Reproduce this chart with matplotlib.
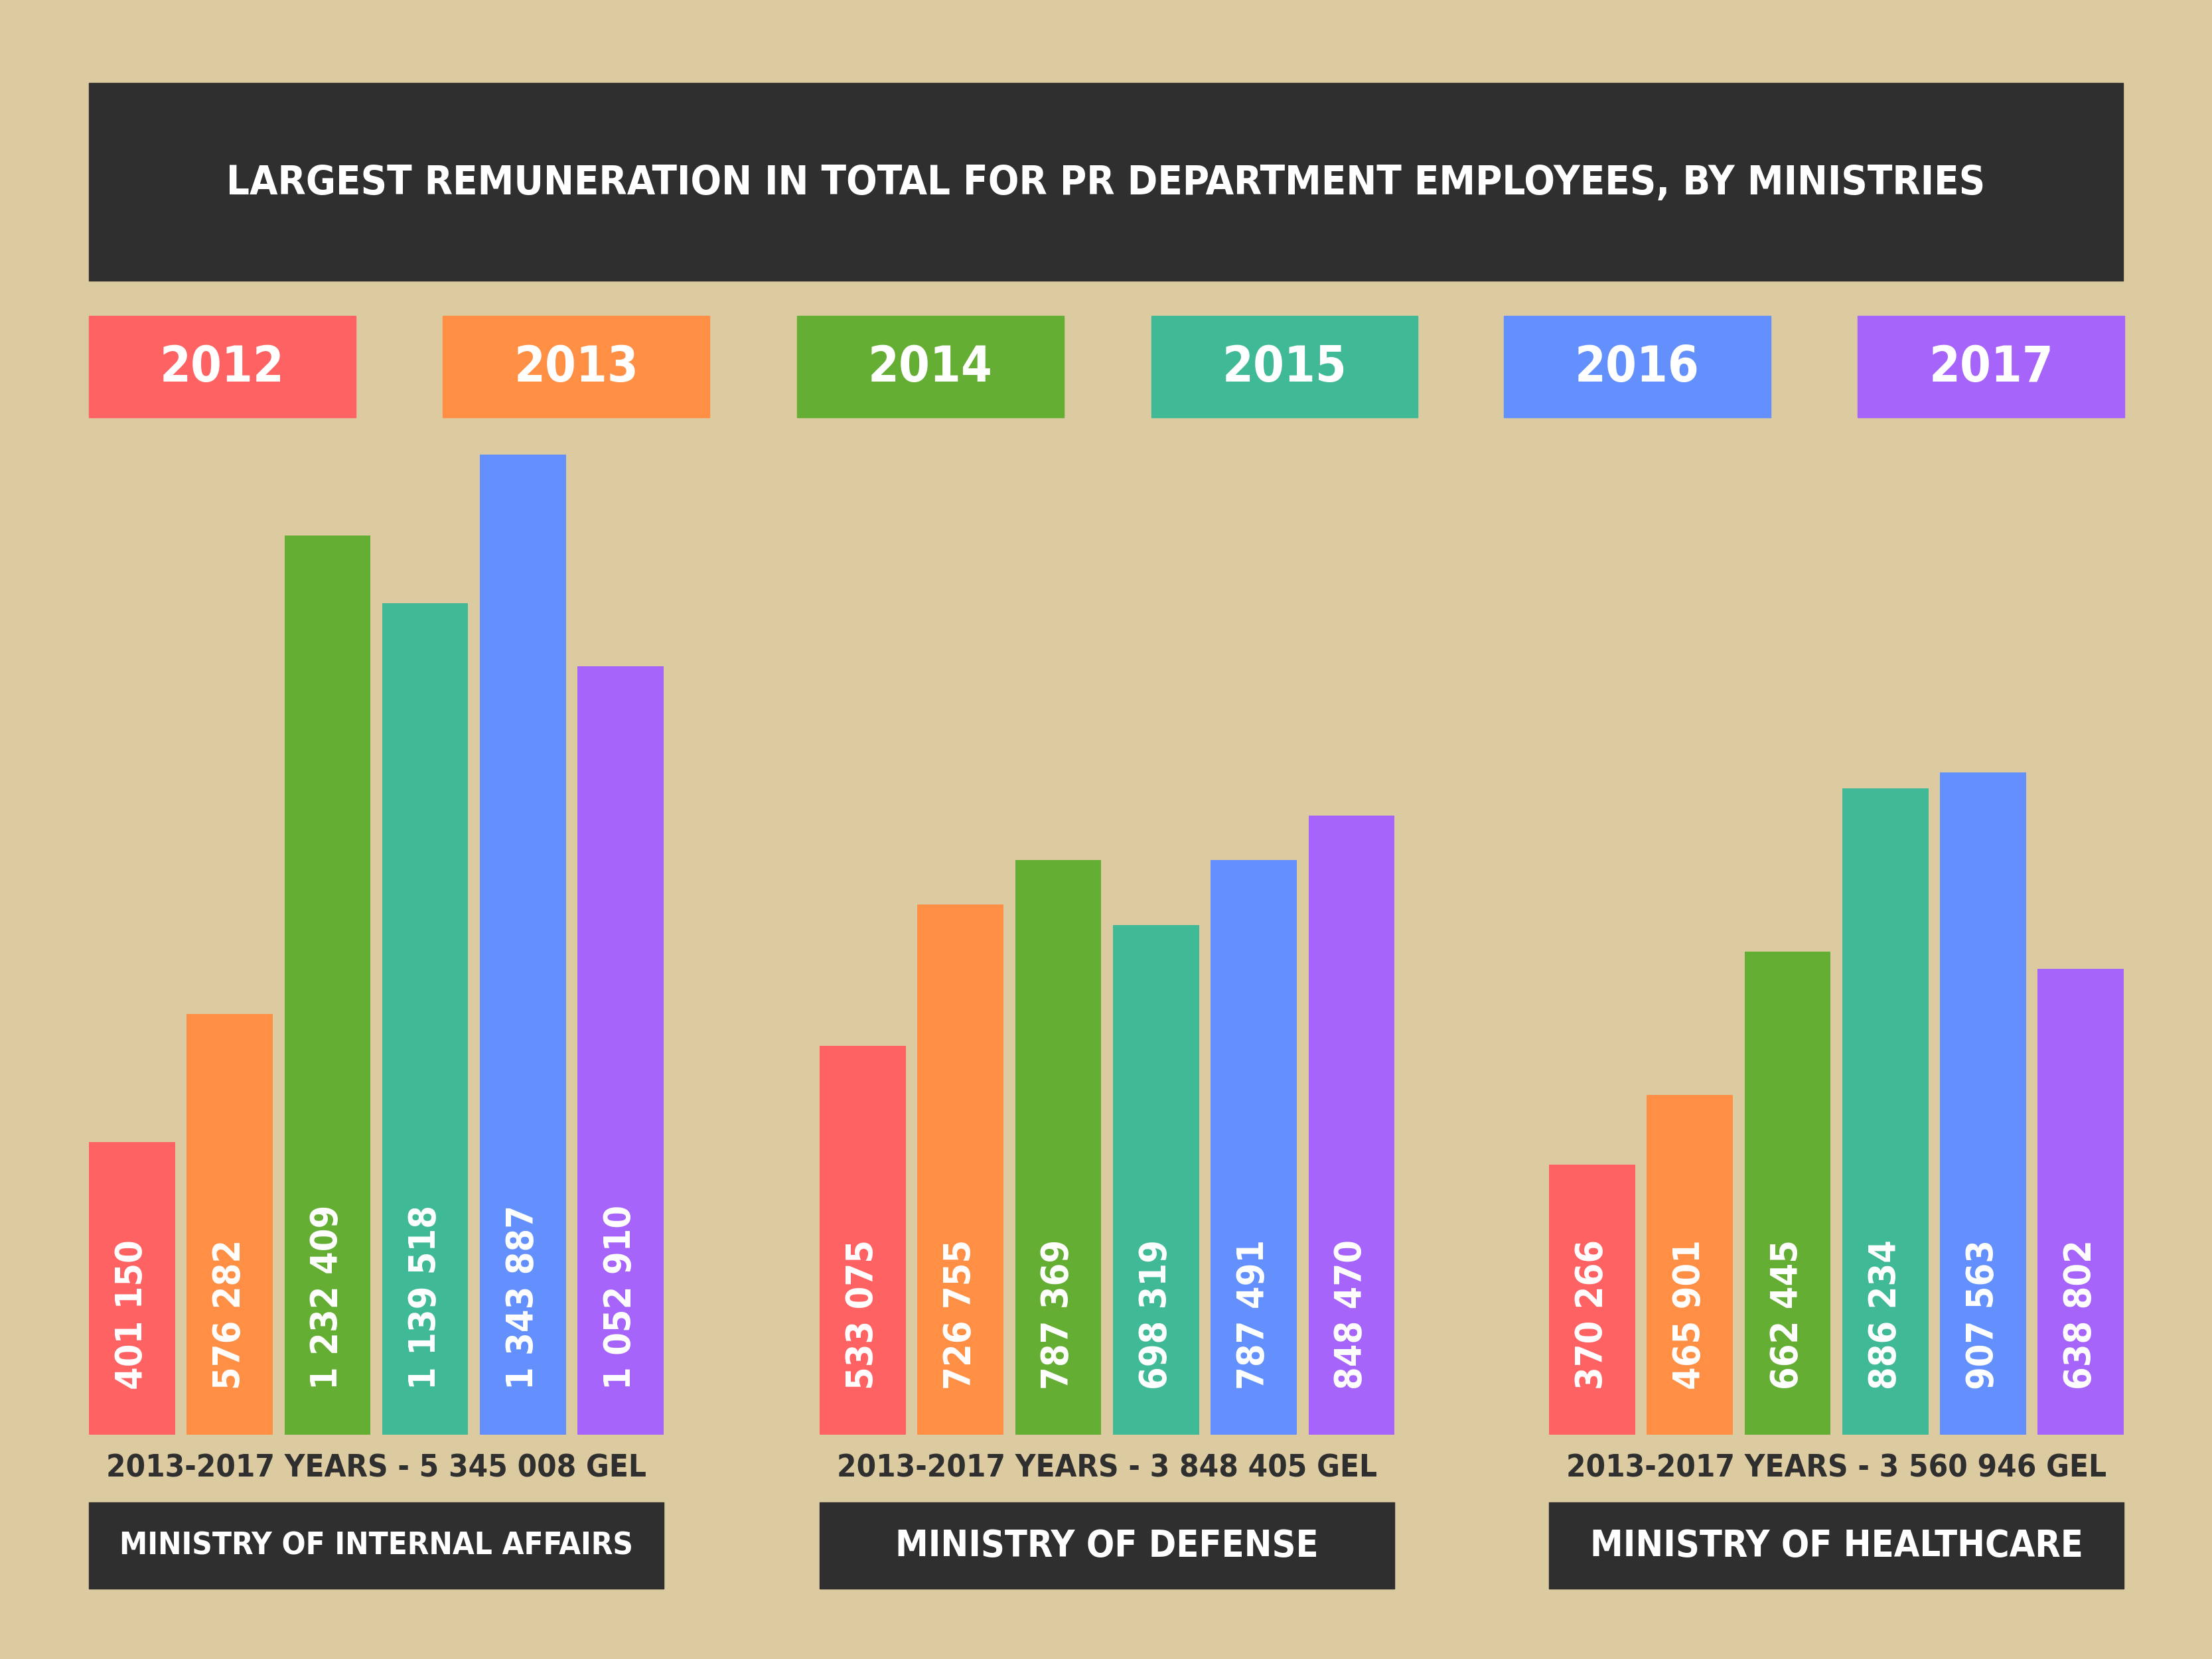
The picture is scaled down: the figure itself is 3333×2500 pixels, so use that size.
import matplotlib
matplotlib.use("Agg")
import matplotlib.pyplot as plt
from matplotlib.patches import Rectangle

FONT = "DejaVu Sans"
ST = "condensed"

years = ["2012", "2013", "2014", "2015", "2016", "2017"]
colors = ["#ff6262", "#ff8f45", "#64ae34", "#40b996", "#6390fc", "#a664fb"]
ministries = ["MINISTRY OF INTERNAL AFFAIRS", "MINISTRY OF DEFENSE", "MINISTRY OF HEALTHCARE"]
totals = ["2013-2017 YEARS - 5 345 008 GEL", "2013-2017 YEARS - 3 848 405 GEL", "2013-2017 YEARS - 3 560 946 GEL"]
values = [
    [401150, 576282, 1232409, 1139518, 1343887, 1052910],
    [533075, 726755, 787369, 698319, 787491, 848470],
    [370266, 465901, 662445, 886234, 907563, 638802],
]
title = "LARGEST REMUNERATION IN TOTAL FOR PR DEPARTMENT EMPLOYEES, BY MINISTRIES"

BG = "#dccba1"; DARK = "#2f2f2f"
W, H = 1568, 1176
fig = plt.figure(figsize=(33.33, 25), dpi=100, facecolor=BG)

ov = fig.add_axes([0, 0, 1, 1]); ov.set_xlim(0, W); ov.set_ylim(H, 0); ov.axis("off")
ov.add_patch(Rectangle((63, 59), 1442, 140, color=DARK))
ov.text(784, 130, title, color="white", fontsize=44, fontweight="bold", family=FONT,
        fontstretch=ST, ha="center", va="center")
lx = [63, 314, 565, 816, 1066, 1317]
for x, y, c in zip(lx, years, colors):
    ov.add_patch(Rectangle((x, 224), 189, 72, color=c))
    ov.text(x + 94.5, 261, y, color="white", fontsize=54, fontweight="bold", family=FONT,
            fontstretch=ST, ha="center", va="center")

k = 1343887 / 695.0
ax = fig.add_axes([0, (H - 1017) / H, 1, 1017 / H], facecolor="none")
ax.set_xlim(0, W); ax.set_ylim(0, 1017 * k); ax.axis("off")
starts = [63, 581, 1098]
step, bw = 69.3, 61
msizes = [34, 40, 40]
for gi, (s, vals) in enumerate(zip(starts, values)):
    xs = [s + i * step + bw / 2 for i in range(6)]
    ax.bar(xs, vals, width=bw, color=colors, align="center")
    for x, v in zip(xs, vals):
        lab = f"{v:,}".replace(",", " ")
        ax.text(x, 32 * k, lab, rotation=90, color="white", fontsize=40, fontweight="bold",
                family=FONT, fontstretch=ST, ha="center", va="bottom")
    gx0 = s; gx1 = s + 5 * step + bw; cx = (gx0 + gx1) / 2
    ov.text(cx, 1041, totals[gi], color=DARK, fontsize=34, fontweight="bold", family=FONT,
            fontstretch=ST, ha="center", va="center")
    ov.add_patch(Rectangle((gx0, 1065), gx1 - gx0, 61, color=DARK))
    ov.text(cx, 1096, ministries[gi], color="white", fontsize=msizes[gi], fontweight="bold",
            family=FONT, fontstretch=ST, ha="center", va="center")

fig.savefig("out.png", dpi=100, facecolor=BG)
